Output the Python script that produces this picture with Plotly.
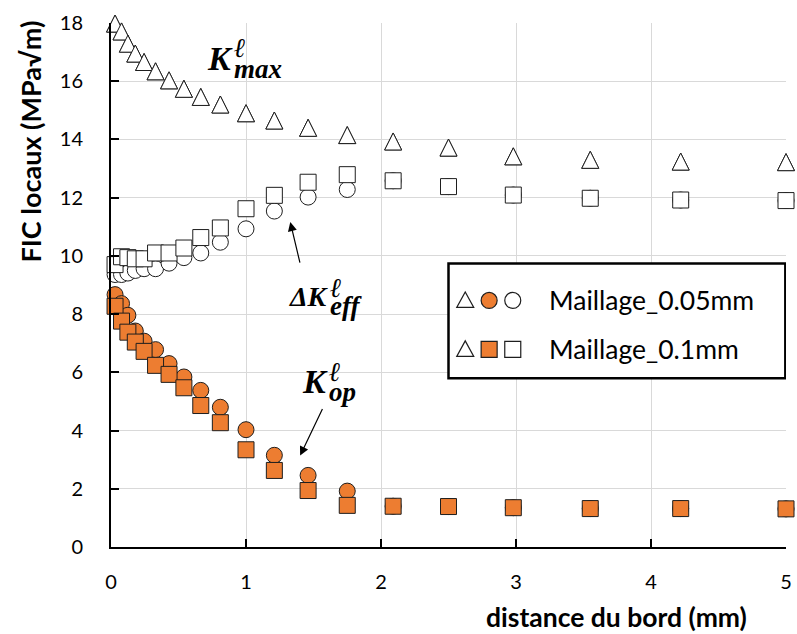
import plotly.graph_objects as go

# ---------------- data ----------------
distance_mm = [0.03, 0.078, 0.125, 0.18, 0.245, 0.33, 0.43, 0.54, 0.665, 0.81,
               1.0, 1.21, 1.46, 1.75, 2.09, 2.5, 2.98, 3.55, 4.22, 5.0]

# Maillage 0.05 mm
kmax_005 = [17.98, 17.71, 17.29, 16.95, 16.66, 16.34, 16.03, 15.74, 15.46, 15.2,
            14.9, 14.65, 14.4, 14.15, 13.93, 13.72, 13.42, 13.3, 13.24, 13.22]
kop_005 = [8.67, 8.36, 7.96, 7.42, 7.07, 6.78, 6.30, 5.84, 5.38, 4.80,
           4.03, 3.15, 2.46, 1.92, 1.40, 1.39, 1.35, 1.32, 1.32, 1.31]
dkeff_005 = [9.36, 9.36, 9.41, 9.50, 9.56, 9.56, 9.75, 9.94, 10.10, 10.47,
             10.93, 11.54, 12.02, 12.28, 12.58, 12.38, 12.09, 11.98, 11.92, 11.90]

# Maillage 0.1 mm
kmax_01 = [17.98, 17.71, 17.29, 16.95, 16.66, 16.34, 16.03, 15.74, 15.46, 15.2,
           14.9, 14.65, 14.4, 14.15, 13.93, 13.72, 13.42, 13.3, 13.24, 13.22]
kop_01 = [8.27, 7.76, 7.38, 7.04, 6.72, 6.24, 5.93, 5.47, 4.86, 4.27,
          3.34, 2.63, 1.94, 1.43, 1.40, 1.39, 1.35, 1.32, 1.32, 1.31]
dkeff_01 = [9.70, 9.97, 9.94, 9.90, 9.90, 10.10, 10.10, 10.27, 10.63, 10.96,
            11.62, 12.08, 12.53, 12.79, 12.58, 12.38, 12.09, 11.98, 11.92, 11.90]

x_ticks = [0, 1, 2, 3, 4, 5]
y_ticks = [0, 2, 4, 6, 8, 10, 12, 14, 16, 18]

legend_labels = ["Maillage_0.05mm", "Maillage_0.1mm"]
x_title = "distance du bord (mm)"
y_title = "FIC locaux (MPa√m)"

# ---------------- styles ----------------
ORANGE = "#ED7D31"
EDGE = "#1e1e1e"
TXT = "Lato"
SERIF = "Liberation Serif"

tri_marker = dict(symbol="arrow-down", angle=180, standoff=8.5, size=17,
                  color="white", line=dict(color=EDGE, width=1))
circ_fill = dict(symbol="circle", size=16, color=ORANGE, line=dict(color=EDGE, width=1))
circ_open = dict(symbol="circle", size=16, color="white", line=dict(color=EDGE, width=1))
sq_fill = dict(symbol="square", size=16, color=ORANGE, line=dict(color=EDGE, width=1))
sq_open = dict(symbol="square", size=16, color="white", line=dict(color=EDGE, width=1))

fig = go.Figure()
series = [
    ("Kmax 0.05", kmax_005, tri_marker),
    ("Kop 0.05", kop_005, circ_fill),
    ("dKeff 0.05", dkeff_005, circ_open),
    ("Kmax 0.1", kmax_01, tri_marker),
    ("Kop 0.1", kop_01, sq_fill),
    ("dKeff 0.1", dkeff_01, sq_open),
]
for name, ys, mk in series:
    fig.add_trace(go.Scatter(x=distance_mm, y=ys, mode="markers", name=name,
                             marker=mk, cliponaxis=False, showlegend=False))

axis_common = dict(showgrid=True, gridcolor="#d9d9d9", gridwidth=1,
                   showline=True, linecolor="black", linewidth=2,
                   ticks="inside", ticklen=8, tickwidth=2, tickcolor="black",
                   tickfont=dict(family=TXT, size=20, color="black"),
                   ticklabeloverflow="allow", zeroline=False)
fig.update_xaxes(range=[0, 5], tickmode="array", tickvals=x_ticks,
                 ticklabelstandoff=16, **axis_common)
fig.update_yaxes(range=[0, 18], tickmode="array", tickvals=y_ticks,
                 ticklabelstandoff=22, **axis_common)

annotations = [
    dict(text="<b>" + x_title + "</b>", xref="paper", yref="paper", x=0.749, y=-0.134,
         showarrow=False, font=dict(family=TXT, size=26.5, color="black"),
         xanchor="center", yanchor="middle"),
    dict(text="<b>" + y_title + "</b>", xref="paper", yref="paper", x=-0.120, y=0.774,
         showarrow=False, textangle=-90, font=dict(family=TXT, size=27, color="black"),
         xanchor="center", yanchor="middle"),
]

def math_label(main, sup, sub, x, y, size_main, size_small, dy_sup, dy_sub):
    common = dict(x=x, y=y, xref="x", yref="y", showarrow=False, yanchor="middle",
                  borderpad=0, borderwidth=0)
    return [
        dict(text="<b><i>" + main + "</i></b>", xanchor="right",
             font=dict(family=SERIF, size=size_main, color="black"), **common),
        dict(text="<b><i>" + sup + "</i></b>", xanchor="left", xshift=1, yshift=dy_sup,
             font=dict(family=SERIF, size=size_small, color="black"), **common),
        dict(text="<b><i>" + sub + "</i></b>", xanchor="left", xshift=1, yshift=dy_sub,
             font=dict(family=SERIF, size=size_small, color="black"), **common),
    ]

annotations += math_label("K", "ℓ", "max", 0.905, 16.79, 34, 27, 10, -11)
annotations += math_label("ΔK", "ℓ", "eff", 1.615, 8.6, 28, 27, 9, -9)
annotations += math_label("K", "ℓ", "op", 1.61, 5.68, 34, 27, 10, -10)

# arrows
annotations.append(dict(x=1.328, y=11.16, xref="x", yref="y", ax=10, ay=42, text="",
                        showarrow=True, arrowhead=2, arrowsize=1.5, arrowwidth=1.2,
                        arrowcolor="black", standoff=0))
annotations.append(dict(x=1.401, y=3.14, xref="x", yref="y", ax=23, ay=-48, text="",
                        showarrow=True, arrowhead=2, arrowsize=1.5, arrowwidth=1.2,
                        arrowcolor="black", standoff=0))

# custom legend (three symbols per row, as in the reference)
row_y = [8.47, 6.79]
sym_x = [2.624, 2.801, 2.976]
text_x = 3.227
for lab, ry in zip(legend_labels, row_y):
    annotations.append(dict(text=lab, x=text_x, y=ry, xref="x", yref="y", showarrow=False,
                            xanchor="left", yanchor="middle",
                            font=dict(family=TXT, size=26.5, color="black")))

shapes = [dict(type="rect", xref="x", yref="y", x0=2.50, x1=4.995, y0=5.80, y1=9.74,
               line=dict(color="black", width=2.5), fillcolor="white", layer="above")]

def glyph(kind, xa, ya, fill):
    base = dict(xref="x", yref="y", xsizemode="pixel", ysizemode="pixel",
                xanchor=xa, yanchor=ya, layer="above",
                line=dict(color=EDGE, width=1.2), fillcolor=fill)
    if kind == "tri":
        base.update(type="path", path="M-8.5,-7 L8.5,-7 L0,8.5 Z")
    elif kind == "circ":
        base.update(type="circle", x0=-8, x1=8, y0=-8, y1=8)
    else:
        base.update(type="rect", x0=-8, x1=8, y0=-8, y1=8)
    return base

shapes.append(glyph("tri", sym_x[0], row_y[0], "white"))
shapes.append(glyph("circ", sym_x[1], row_y[0], ORANGE))
shapes.append(glyph("circ", sym_x[2], row_y[0], "white"))
shapes.append(glyph("tri", sym_x[0], row_y[1], "white"))
shapes.append(glyph("sq", sym_x[1], row_y[1], ORANGE))
shapes.append(glyph("sq", sym_x[2], row_y[1], "white"))

fig.update_layout(width=797, height=634, margin=dict(l=111, r=5, t=23, b=87),
                  plot_bgcolor="white", paper_bgcolor="white",
                  showlegend=False, annotations=annotations, shapes=shapes)

fig.write_html("out.html", config={"displayModeBar": False},
               post_script="document.body.style.margin='0';document.body.style.overflow='hidden';")
